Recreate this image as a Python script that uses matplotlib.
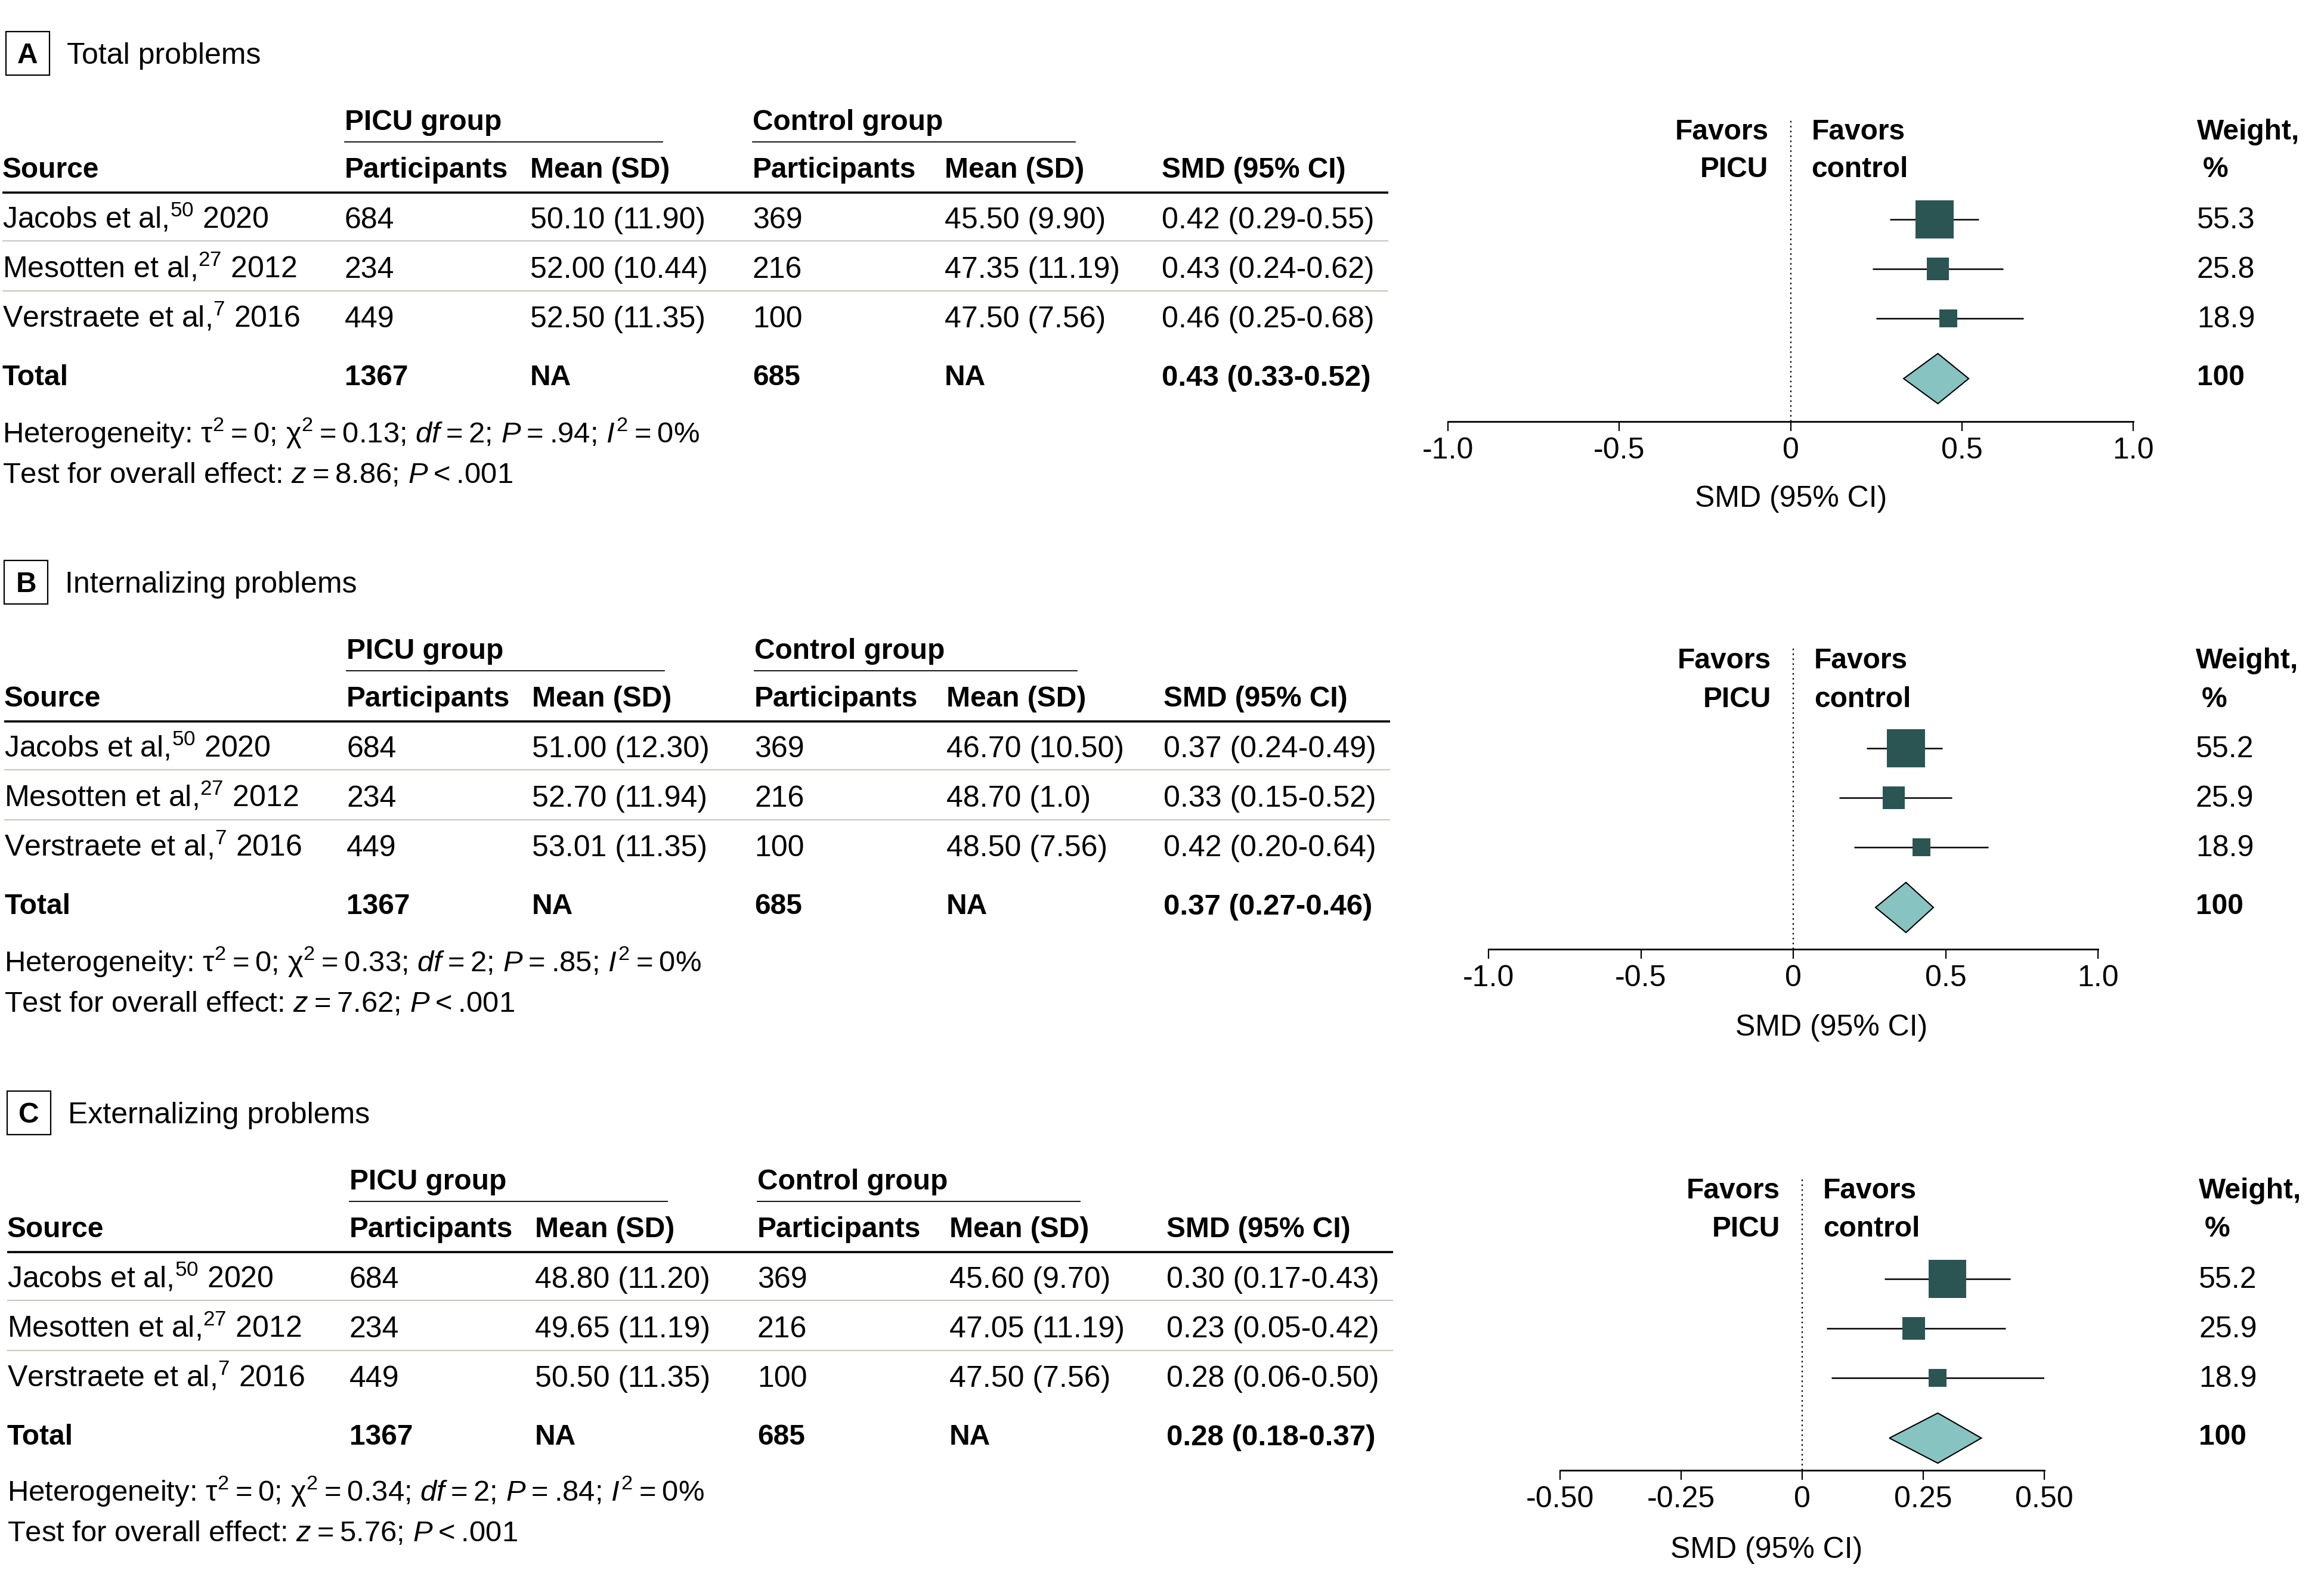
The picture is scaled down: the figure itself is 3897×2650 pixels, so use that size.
import matplotlib
matplotlib.use("Agg")
import matplotlib.pyplot as plt
from matplotlib.patches import Polygon, Rectangle
from matplotlib import font_manager

# ---------------- data ----------------
panel_letters = ["A", "B", "C"]
panel_titles = ["Total problems", "Internalizing problems", "Externalizing problems"]
sources = ["Jacobs et al,", "Mesotten et al,", "Verstraete et al,"]
refs = ["50", "27", "7"]
years = ["2020", "2012", "2016"]
picu_n = [684, 234, 449]
ctrl_n = [369, 216, 100]
picu_total = 1367
ctrl_total = 685
picu_mean = [["50.10", "52.00", "52.50"], ["51.00", "52.70", "53.01"], ["48.80", "49.65", "50.50"]]
picu_sd = [["11.90", "10.44", "11.35"], ["12.30", "11.94", "11.35"], ["11.20", "11.19", "11.35"]]
ctrl_mean = [["45.50", "47.35", "47.50"], ["46.70", "48.70", "48.50"], ["45.60", "47.05", "47.50"]]
ctrl_sd = [["9.90", "11.19", "7.56"], ["10.50", "1.0", "7.56"], ["9.70", "11.19", "7.56"]]
smd = [[0.42, 0.43, 0.46], [0.37, 0.33, 0.42], [0.30, 0.23, 0.28]]
smd_lo = [[0.29, 0.24, 0.25], [0.24, 0.15, 0.20], [0.17, 0.05, 0.06]]
smd_hi = [[0.55, 0.62, 0.68], [0.49, 0.52, 0.64], [0.43, 0.42, 0.50]]
weights = [[55.3, 25.8, 18.9], [55.2, 25.9, 18.9], [55.2, 25.9, 18.9]]
tot_smd = [0.43, 0.37, 0.28]
tot_lo = [0.33, 0.27, 0.18]
tot_hi = [0.52, 0.46, 0.37]
chi2 = ["0.13", "0.33", "0.34"]
het_df = 2
het_p = [".94", ".85", ".84"]
zval = ["8.86", "7.62", "5.76"]
xticks = [[-1.0, -0.5, 0, 0.5, 1.0], [-1.0, -0.5, 0, 0.5, 1.0], [-0.5, -0.25, 0, 0.25, 0.5]]
xticklabels = [["-1.0", "-0.5", "0", "0.5", "1.0"], ["-1.0", "-0.5", "0", "0.5", "1.0"],
               ["-0.50", "-0.25", "0", "0.25", "0.50"]]

# ---------------- style / layout ----------------
W, H = 3897, 2650
DPI = 100
avail = {f.name for f in font_manager.fontManager.ttflist}
main_font = next((f for f in ["Liberation Sans", "Arial", "Noto Sans", "DejaVu Sans"] if f in avail), "DejaVu Sans")
plt.rcParams['font.family'] = [main_font, 'DejaVu Sans']
plt.rcParams['mathtext.fontset'] = 'custom'
plt.rcParams['mathtext.rm'] = main_font
plt.rcParams['mathtext.it'] = main_font + ':italic'
plt.rcParams['mathtext.bf'] = main_font + ':bold'
FS_REG = 36
FS_BOLD = 34.5
FS_HET = 35.3
TS = "\u2009"  # thin space

SQ_COLOR = "#2B5553"
DIA_COLOR = "#86C3C1"
GRAY = "#C6CABE"

fig = plt.figure(figsize=(W / DPI, H / DPI), dpi=DPI)
fig.patch.set_facecolor("white")
tab = fig.add_axes([0, 0, 1, 1])
tab.set_xlim(0, W)
tab.set_ylim(H, 0)
tab.axis("off")


def T(x, y, s, ha="left", bold=False, size=None):
    if size is None:
        size = FS_BOLD if bold else FS_REG
    half_cap = 0.716 * size * DPI / 72 / 2
    tab.text(x, y + half_cap, s, ha=ha, va="baseline", fontsize=size,
             fontweight="bold" if bold else "normal", color="black")


def eq(a, b, op="="):
    return f"{a}{TS}{op}{TS}{b}"


# base layout (panel A), offsets for the others
Y = dict(title=89, group=201, uline=238, header=281, thick=323,
         rows=[365, 448, 531], gray=[404, 488], total=629, het=724, test=792)
X = dict(src=4, pn=578, pm=889, cn=1262, cm=1584, smd=1948,
         line_end=2328, pu_end=1111, cu_end=1803)
dy = [0, 887, 1777]
dx = [0, 3, 8]
box_x = [10, 7, 12]

fx = [(2428, 3577), (2496, 3518), (2616, 3428)]
axis_y = [707, 1592, 2466]
dot_top = [198, 1085, 1978]
fav_y = [(217, 280), (1104, 1169), (1993, 2057)]
smd_lab = [(3003, 832), (3071, 1719), (2962, 2595)]
weight_x = [3684, 3682, 3687]

for p in range(3):
    oy, ox = dy[p], dx[p]
    # panel letter box + title
    bx = box_x[p]
    tab.add_patch(Rectangle((bx, Y["title"] + oy - 36), 73, 73, fill=False,
                            edgecolor="black", linewidth=1.6))
    T(bx + 36.5, Y["title"] + oy, panel_letters[p], ha="center", bold=True)
    T(bx + 102, Y["title"] + oy, panel_titles[p])

    # group headers
    T(X["pn"] + ox, Y["group"] + oy, "PICU group", bold=True)
    T(X["cn"] + ox, Y["group"] + oy, "Control group", bold=True)
    tab.plot([X["pn"] + ox, X["pu_end"] + ox], [Y["uline"] + oy] * 2, color="black", lw=1.3)
    tab.plot([X["cn"] + ox, X["cu_end"] + ox], [Y["uline"] + oy] * 2, color="black", lw=1.3)

    # column headers
    T(X["src"] + ox, Y["header"] + oy, "Source", bold=True)
    T(X["pn"] + ox, Y["header"] + oy, "Participants", bold=True)
    T(X["pm"] + ox, Y["header"] + oy, "Mean (SD)", bold=True)
    T(X["cn"] + ox, Y["header"] + oy, "Participants", bold=True)
    T(X["cm"] + ox, Y["header"] + oy, "Mean (SD)", bold=True)
    T(X["smd"] + ox, Y["header"] + oy, "SMD (95% CI)", bold=True)
    tab.plot([X["src"] + ox, X["line_end"] + ox], [Y["thick"] + oy] * 2, color="black", lw=2.6,
             solid_capstyle="butt")

    # study rows
    for i in range(3):
        yy = Y["rows"][i] + oy
        T(X["src"] + ox, yy, f"{sources[i]}$^{{{refs[i]}}}$ {years[i]}")
        T(X["pn"] + ox, yy, f"{picu_n[i]}")
        T(X["pm"] + ox, yy, f"{picu_mean[p][i]} ({picu_sd[p][i]})")
        T(X["cn"] + ox, yy, f"{ctrl_n[i]}")
        T(X["cm"] + ox, yy, f"{ctrl_mean[p][i]} ({ctrl_sd[p][i]})")
        T(X["smd"] + ox, yy, f"{smd[p][i]:.2f} ({smd_lo[p][i]:.2f}-{smd_hi[p][i]:.2f})")
        T(weight_x[p], yy, f"{weights[p][i]:.1f}")
    for g in Y["gray"]:
        tab.plot([X["src"] + ox, X["line_end"] + ox], [g + oy] * 2, color=GRAY, lw=1.6,
                 solid_capstyle="butt")

    # total row
    yt = Y["total"] + oy
    T(X["src"] + ox, yt, "Total", bold=True)
    T(X["pn"] + ox, yt, f"{picu_total}", bold=True)
    T(X["pm"] + ox, yt, "NA", bold=True)
    T(X["cn"] + ox, yt, f"{ctrl_total}", bold=True)
    T(X["cm"] + ox, yt, "NA", bold=True)
    T(X["smd"] + ox, yt, f"{tot_smd[p]:.2f} ({tot_lo[p]:.2f}-{tot_hi[p]:.2f})", bold=True, size=35.5)
    T(weight_x[p], yt, "100", bold=True)

    # heterogeneity lines
    het_y = Y["het"] + oy
    test_y = Y["test"] + oy
    if p == 2:
        het_y, test_y = 2499, 2567
    het = ("Heterogeneity: " + eq("τ$^{2}$", "0") + "; " + eq("χ$^{2}$", chi2[p]) + "; "
           + eq("$df$", het_df) + "; " + eq("$P$", het_p[p]) + "; " + eq("$I^{2}$", "0%"))
    T(X["src"] + ox, het_y, het, size=FS_HET)
    T(X["src"] + ox, test_y, "Test for overall effect: " + eq("$z$", zval[p]) + "; " + eq("$P$", ".001", "<"),
      size=FS_HET)

    # ---------- forest plot ----------
    xl, xr = fx[p]
    ay, top = axis_y[p], dot_top[p]
    ax = fig.add_axes([xl / W, 1 - ay / H, (xr - xl) / W, (ay - top) / H])
    ax.patch.set_alpha(0)
    ax.set_xlim(xticks[p][0], xticks[p][-1])
    ax.set_ylim(ay, top)
    for s in ["top", "left", "right"]:
        ax.spines[s].set_visible(False)
    ax.spines["bottom"].set_linewidth(2.0)
    ax.set_yticks([])
    ax.set_xticks(xticks[p])
    ax.set_xticklabels(xticklabels[p])
    ax.tick_params(axis="x", length=11.5, width=1.6, pad=7, labelsize=FS_REG, direction="out")
    ax.axvline(0, color="black", linestyle=(0, (1.2, 2.5)), linewidth=1.6, zorder=1)

    ys = [Y["rows"][i] + oy + 3 for i in range(3)]
    ax.hlines(ys, smd_lo[p], smd_hi[p], color="black", linewidth=1.8, zorder=2)
    sides = [3.85 * w ** 0.7 * 0.72 for w in weights[p]]
    ax.scatter(smd[p], ys, s=[sd_ ** 2 for sd_ in sides], marker="s", color=SQ_COLOR,
               linewidths=0, zorder=3, clip_on=False)
    yd = yt + 6
    ax.add_patch(Polygon([(tot_lo[p], yd), (tot_smd[p], yd - 42), (tot_hi[p], yd), (tot_smd[p], yd + 42)],
                         closed=True, facecolor=DIA_COLOR, edgecolor="black", linewidth=1.5, zorder=3))

    # favors labels
    x0 = xl + (0 - xticks[p][0]) / (xticks[p][-1] - xticks[p][0]) * (xr - xl)
    T(x0 - 37, fav_y[p][0], "Favors", ha="right", bold=True)
    T(x0 - 37, fav_y[p][1], "PICU", ha="right", bold=True)
    T(x0 + 35, fav_y[p][0], "Favors", bold=True)
    T(x0 + 35, fav_y[p][1], "control", bold=True)
    T(weight_x[p], fav_y[p][0], "Weight,", bold=True)
    T(weight_x[p] + 10, fav_y[p][1], "%", bold=True)
    T(smd_lab[p][0], smd_lab[p][1], "SMD (95% CI)", ha="center")

fig.savefig("out.png", dpi=DPI, facecolor="white")
